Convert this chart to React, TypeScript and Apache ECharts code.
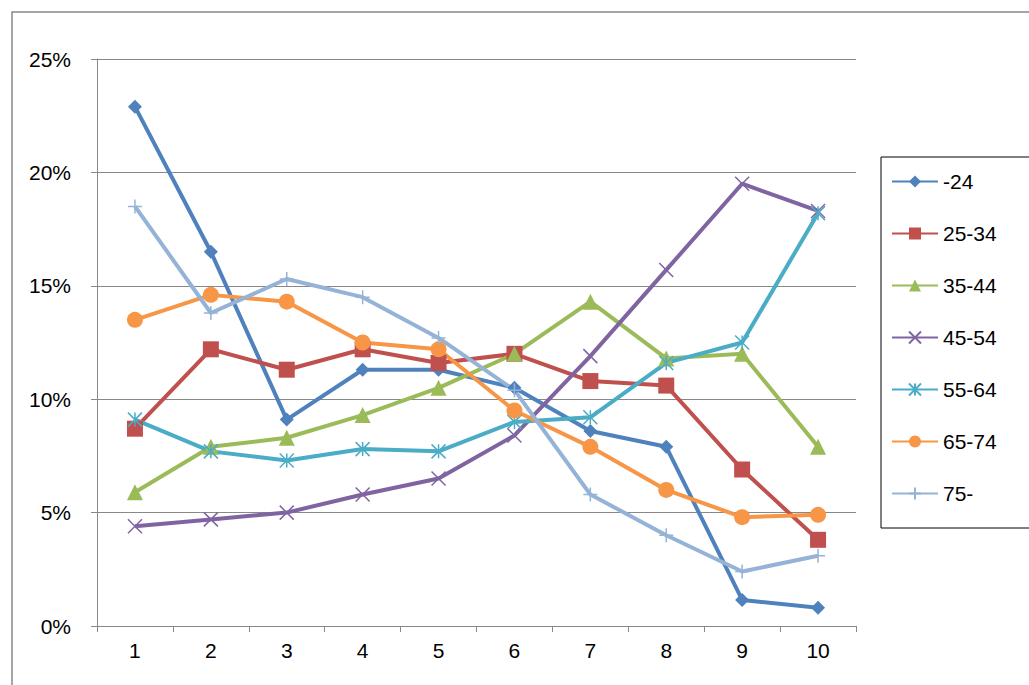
import React, { useEffect, useRef } from 'react';
import * as echarts from 'echarts';

const categories = ['1', '2', '3', '4', '5', '6', '7', '8', '9', '10'];
const seriesNames = ['-24', '25-34', '35-44', '45-54', '55-64', '65-74', '75-'];
const age24 = [22.9, 16.5, 9.1, 11.3, 11.3, 10.5, 8.6, 7.9, 1.15, 0.8];
const age25 = [8.7, 12.2, 11.3, 12.2, 11.6, 12.0, 10.8, 10.6, 6.9, 3.8];
const age35 = [5.9, 7.9, 8.3, 9.3, 10.5, 12.0, 14.3, 11.8, 12.0, 7.9];
const age45 = [4.4, 4.7, 5.0, 5.8, 6.5, 8.4, 11.9, 15.7, 19.5, 18.3];
const age55 = [9.1, 7.7, 7.3, 7.8, 7.7, 9.0, 9.2, 11.6, 12.5, 18.2];
const age65 = [13.5, 14.6, 14.3, 12.5, 12.2, 9.5, 7.9, 6.0, 4.8, 4.9];
const age75 = [18.5, 13.8, 15.3, 14.5, 12.7, 10.4, 5.8, 4.0, 2.4, 3.1];

const values = [age24, age25, age35, age45, age55, age65, age75];
const colors = ['#4F81BD', '#C0504D', '#9BBB59', '#8064A2', '#4BACC6', '#F79646', '#95B3D7'];
const symbols = [
  'diamond',
  'rect',
  'triangle',
  'path://M0,0L10,10M10,0L0,10',
  'path://M0,0L10,10M10,0L0,10M5,0L5,10',
  'circle',
  'path://M5,0L5,10M0,5L10,5',
];
const sizes = [14, 16, 16, 14, 14, 16, 14];
const stroked = [false, false, false, true, true, false, true];

const App: React.FC = () => {
  const ref = useRef<HTMLDivElement>(null);

  useEffect(() => {
    document.body.style.margin = '0';
    if (!ref.current) return;
    const chart = echarts.init(ref.current, undefined, { renderer: 'svg' });
    const font = 'Liberation Sans';
    chart.setOption({
      animation: false,
      textStyle: { fontFamily: font },
      graphic: [
        { type: 'rect', shape: { x: 12, y: 12, width: 1200, height: 1000 }, style: { fill: 'none', stroke: '#888', lineWidth: 1.5 }, z: -1 },
      ],
      grid: { left: 97, right: 173, top: 59, bottom: 59 },
      legend: {
        orient: 'vertical',
        left: 881,
        top: 157,
        width: 170,
        height: 370,
        padding: [14, 40, 24, 10],
        itemGap: 31,
        itemWidth: 46,
        itemHeight: 15,
        borderColor: '#000',
        borderWidth: 1,
        textStyle: { fontSize: 21, color: '#000', fontFamily: font },
        data: seriesNames,
      },
      xAxis: {
        type: 'category',
        data: categories,
        boundaryGap: true,
        axisLine: { lineStyle: { color: '#888' } },
        axisTick: { show: true, length: 6, lineStyle: { color: '#888' } },
        axisLabel: { fontSize: 21, color: '#000', margin: 14 },
      },
      yAxis: {
        type: 'value',
        min: 0,
        max: 25,
        interval: 5,
        axisLine: { show: true, lineStyle: { color: '#888' } },
        axisTick: { show: true, length: 6, lineStyle: { color: '#888' } },
        axisLabel: { fontSize: 21, color: '#000', formatter: '{value}%', margin: 26 },
        splitLine: { lineStyle: { color: '#888', width: 1 } },
      },
      series: seriesNames.map((name, i) => ({
        name,
        type: 'line',
        data: values[i],
        symbol: symbols[i],
        symbolSize: sizes[i],
        lineStyle: { width: 4, color: colors[i] },
        itemStyle: stroked[i]
          ? { color: colors[i], borderColor: colors[i], borderWidth: 1.5 }
          : { color: colors[i] },
      })),
    });
    return () => chart.dispose();
  }, []);

  return <div ref={ref} style={{ width: 1029, height: 685 }} />;
};

export default App;
